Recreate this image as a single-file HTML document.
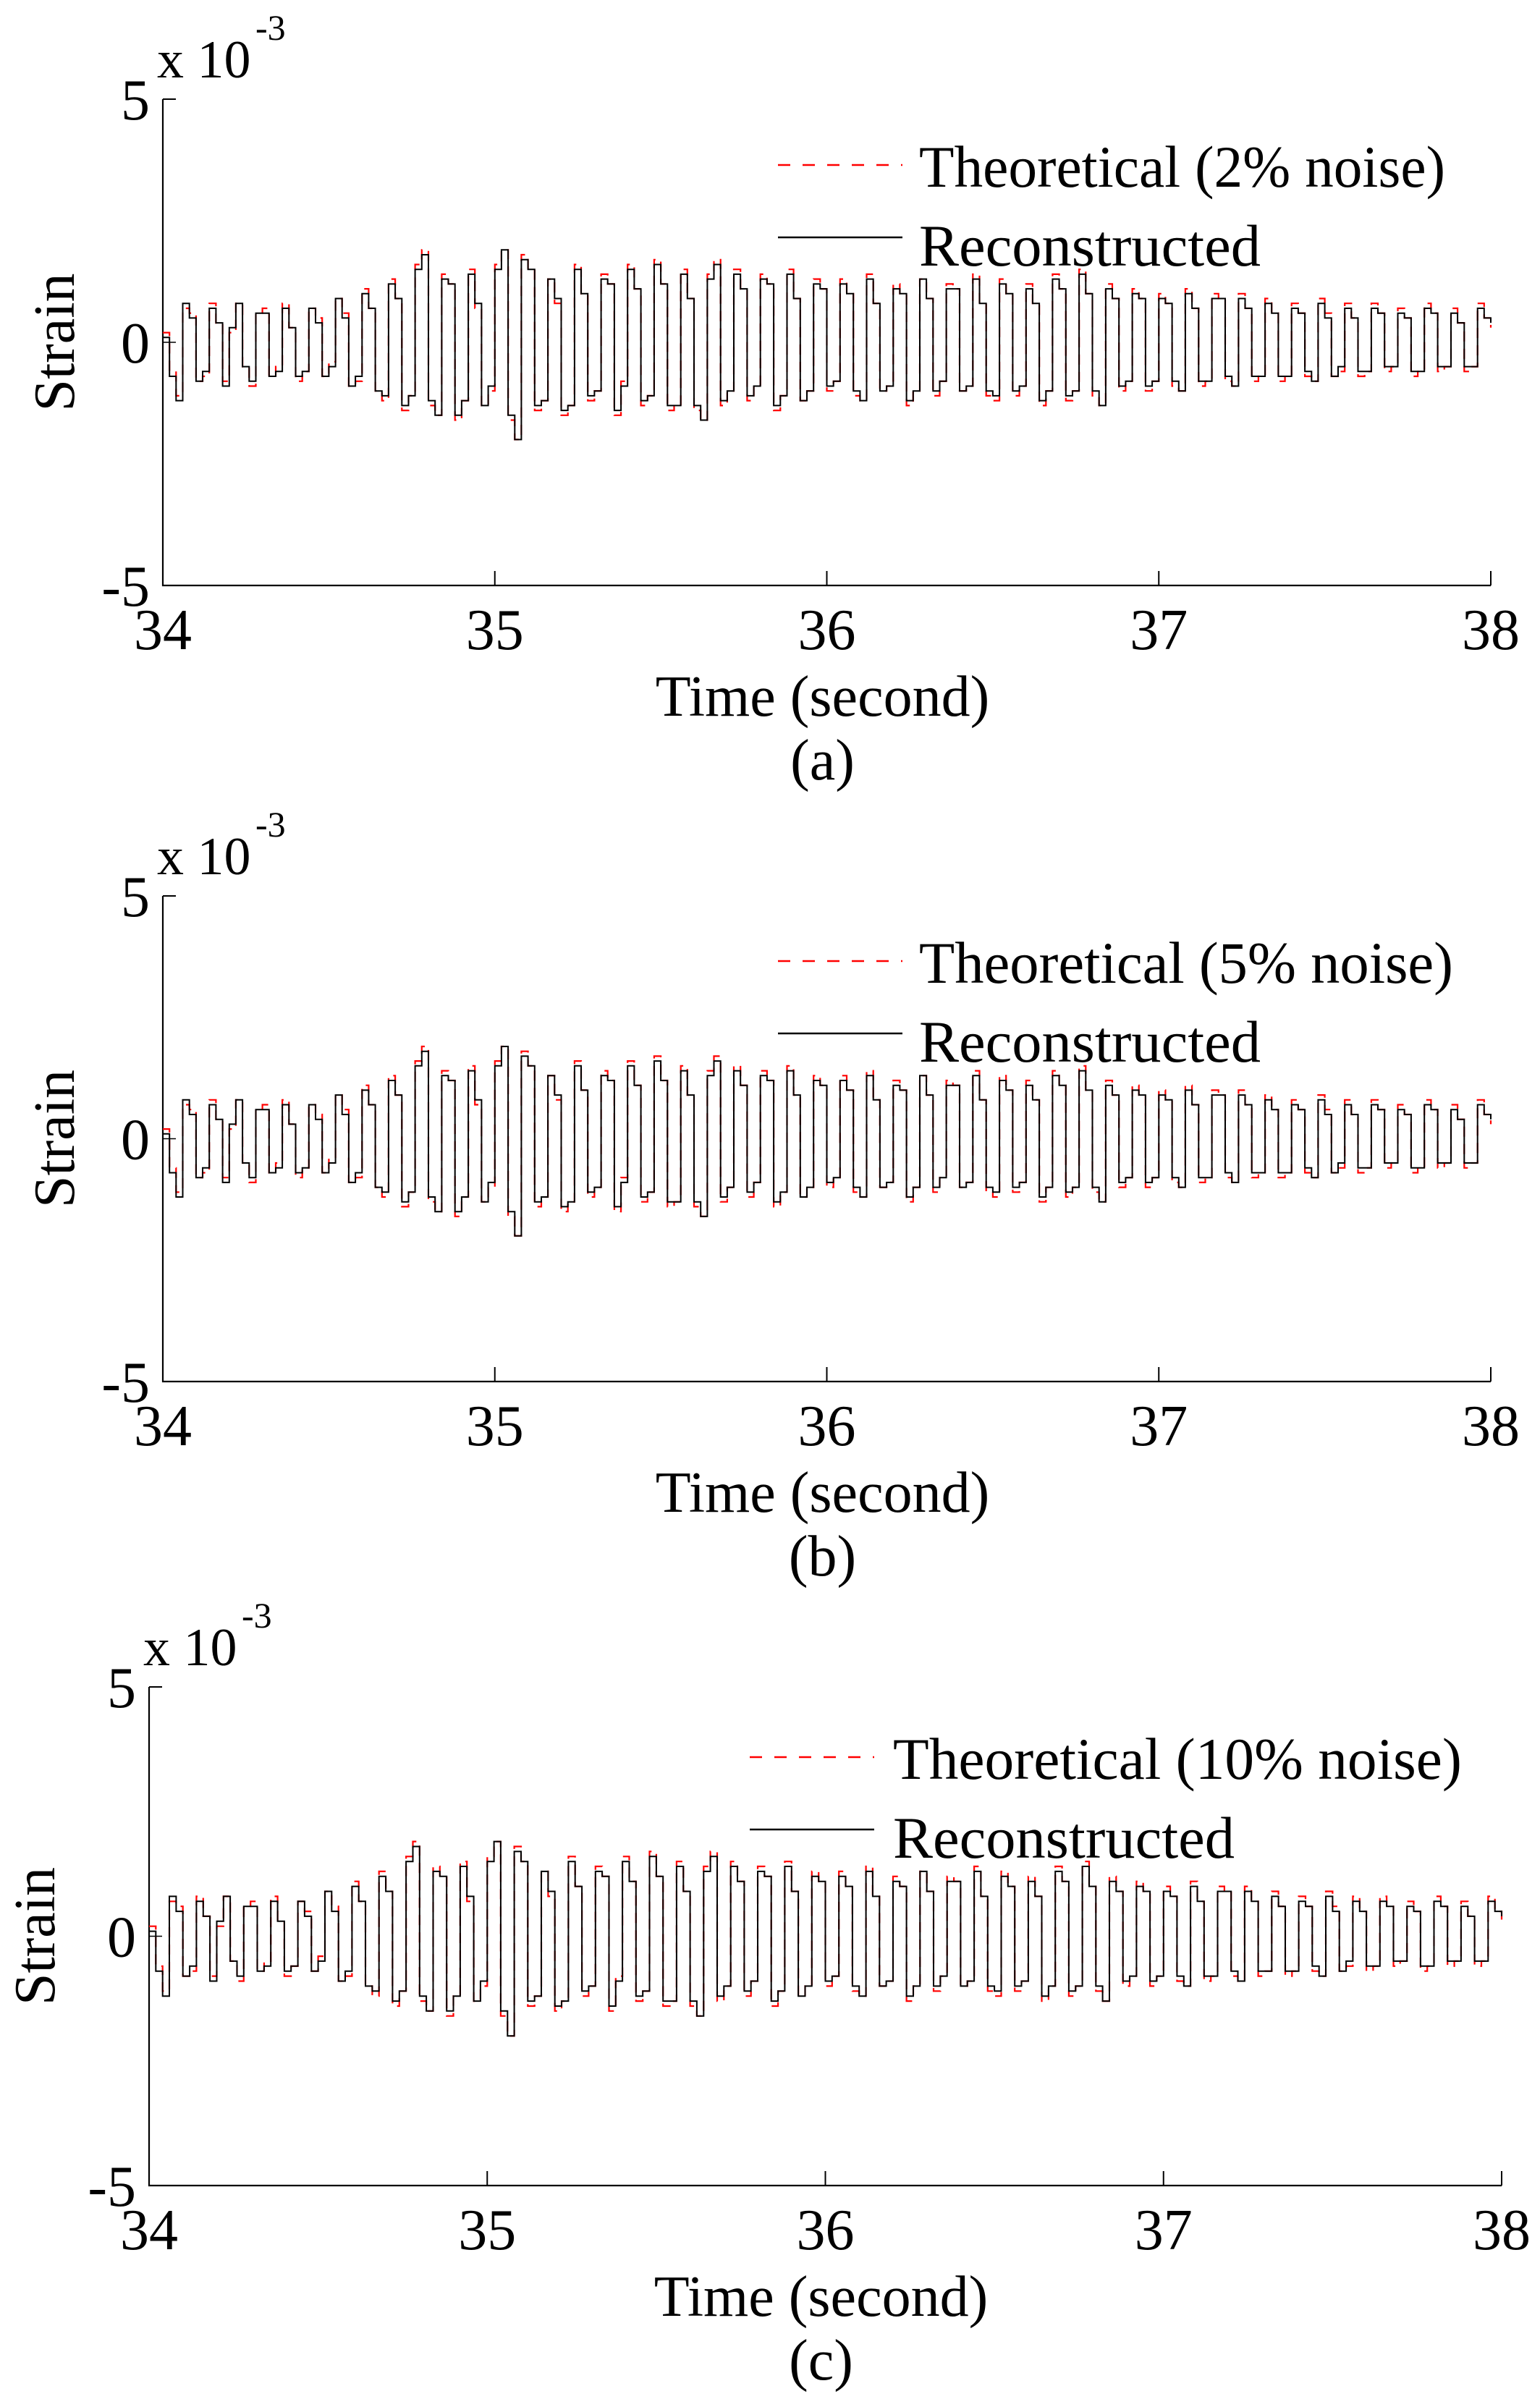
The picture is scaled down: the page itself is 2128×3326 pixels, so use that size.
<!DOCTYPE html>
<html><head><meta charset="utf-8"><style>
html,body{margin:0;padding:0;background:#fff;}
svg{display:block;font-family:"Liberation Serif",serif;}
</style></head><body>
<svg id="fig" width="2128" height="3326" viewBox="0 0 2128 3326" xmlns="http://www.w3.org/2000/svg"></svg>
<script>
// Shared data (units: x 10^-3 strain), sampled every 0.02 s from 34 s to 38 s
const timeStart = 34;
const timeStep = 0.02;
const xTicks = [34, 35, 36, 37, 38];
const yTicks = [-5, 0, 5];
const theoretical = [
0.2,-0.6,-1.1,0.7,0.6,-0.8,-0.7,0.8,0.4,-0.8,0.2,0.8,-0.5,-0.9,0.6,0.7,-0.7,-0.5,0.8,0.3,-0.8,-0.6,0.7,0.5,-0.7,
-0.4,0.9,0.6,-0.9,-0.8,1.1,0.7,-1.0,-1.2,1.3,0.9,-1.4,-1.1,1.6,1.9,-1.3,-1.5,1.4,1.2,-1.6,-1.2,1.5,0.7,-1.3,-1.0,
1.6,1.9,-1.6,-2.0,1.8,1.5,-1.4,-1.2,1.3,0.8,-1.5,-1.3,1.6,1.0,-1.2,-1.0,1.4,1.2,-1.5,-0.8,1.6,1.1,-1.3,-1.1,1.7,
1.2,-1.4,-1.3,1.5,0.9,-1.4,-1.6,1.4,1.7,-1.3,-1.0,1.5,1.1,-1.2,-0.9,1.4,1.2,-1.4,-1.1,1.5,0.9,-1.2,-1.0,1.3,1.1,
-1.0,-0.8,1.3,1.0,-1.1,-1.2,1.4,0.8,-1.0,-0.9,1.2,1.0,-1.3,-1.0,1.3,0.9,-1.1,-0.8,1.2,1.1,-1.0,-0.9,1.4,0.8,-1.1,
-1.2,1.3,1.0,-1.1,-0.9,1.2,0.8,-1.3,-1.0,1.4,1.1,-1.2,-1.0,1.5,1.0,-1.1,-1.3,1.2,0.9,-1.0,-0.8,1.1,0.9,-1.0,-0.8,
1.0,0.8,-0.9,-1.0,1.1,0.7,-0.9,-0.8,1.0,0.9,-0.8,-0.9,1.0,0.7,-0.8,-0.7,0.9,0.6,-0.8,-0.7,0.8,0.6,-0.7,-0.8,0.9,
0.6,-0.7,-0.6,0.8,0.5,-0.7,-0.6,0.8,0.6,-0.6,-0.5,0.7,0.5,-0.7,-0.6,0.8,0.6,-0.6,-0.5,0.7,0.4,-0.6,-0.5,0.8,0.5,0.3];
const reconstructed = [
0.1,-0.7,-1.2,0.8,0.5,-0.8,-0.6,0.7,0.4,-0.9,0.3,0.8,-0.5,-0.8,0.6,0.6,-0.7,-0.6,0.7,0.3,-0.7,-0.6,0.7,0.4,-0.7,
-0.5,0.9,0.5,-0.9,-0.7,1.0,0.7,-1.0,-1.1,1.2,0.9,-1.3,-1.1,1.5,1.8,-1.2,-1.5,1.3,1.2,-1.5,-1.2,1.4,0.8,-1.3,-0.9,
1.5,1.9,-1.5,-2.0,1.7,1.5,-1.3,-1.2,1.3,0.9,-1.4,-1.3,1.5,1.0,-1.1,-1.0,1.3,1.2,-1.4,-0.9,1.5,1.1,-1.2,-1.1,1.6,
1.2,-1.3,-1.3,1.4,0.9,-1.3,-1.6,1.3,1.6,-1.2,-1.0,1.4,1.1,-1.1,-0.9,1.3,1.2,-1.3,-1.1,1.4,0.9,-1.2,-1.0,1.2,1.1,
-0.9,-0.8,1.2,1.0,-1.0,-1.2,1.3,0.8,-1.0,-0.9,1.1,1.0,-1.2,-1.0,1.3,0.9,-1.0,-0.8,1.1,1.1,-1.0,-0.9,1.3,0.8,-1.0,
-1.1,1.2,1.0,-1.0,-0.9,1.1,0.8,-1.2,-1.0,1.3,1.1,-1.1,-1.0,1.4,1.0,-1.0,-1.3,1.1,0.9,-0.9,-0.8,1.0,0.9,-0.9,-0.8,
0.9,0.8,-0.8,-1.0,1.0,0.7,-0.8,-0.8,0.9,0.9,-0.7,-0.9,0.9,0.7,-0.7,-0.7,0.8,0.6,-0.7,-0.7,0.7,0.6,-0.6,-0.8,0.8,
0.5,-0.7,-0.5,0.7,0.5,-0.6,-0.6,0.7,0.6,-0.5,-0.5,0.6,0.5,-0.6,-0.6,0.7,0.6,-0.5,-0.5,0.6,0.4,-0.5,-0.5,0.7,0.5,0.4];
const panelLabels = ["(a)", "(b)", "(c)"];
const noiseLabels = ["Theoretical (2% noise)", "Theoretical (5% noise)", "Theoretical (10% noise)"];

const NS = "http://www.w3.org/2000/svg";
const svg = document.getElementById("fig");
function mk(tag, attrs, parent, text) {
  const e = document.createElementNS(NS, tag);
  for (const k in attrs) e.setAttribute(k, attrs[k]);
  if (text !== undefined) e.textContent = text;
  parent.appendChild(e);
  return e;
}

const layouts = [
  {L:225, R:2060, T:137, B:809, legX:1075, legTX:1270, legW:727, legY:228, yt:123},
  {L:225, R:2060, T:1238, B:1909, legX:1075, legTX:1270, legW:738, legY:1328, yt:123},
  {L:206, R:2075, T:2331, B:3020, legX:1036, legTX:1234, legW:786, legY:2428, yt:131}
];

layouts.forEach((p, idx) => {
  const g = mk("g", {}, svg);
  
  
  const xS = t => p.L + (t - 34) / 4 * (p.R - p.L);
  const yS = v => p.T + (5 - v) / 10 * (p.B - p.T);
  const y0 = yS(0);

  const ax = mk("path", {d:`M${p.L} ${p.T} V${p.B} H${p.R}`, fill:"none", stroke:"#000", "stroke-width":2.2}, g);
  
  
  mk("line", {x1:p.L, y1:p.T, x2:p.L+18, y2:p.T, stroke:"#000", "stroke-width":2}, g);
  mk("line", {x1:p.L, y1:y0, x2:p.L+18, y2:y0, stroke:"#000", "stroke-width":1.5}, g);

  xTicks.forEach(t => {
    const x = xS(t);
    mk("line", {x1:x, y1:p.B, x2:x, y2:p.B-20, stroke:"#000", "stroke-width":2}, g);
    const lab = mk("text", {x:x, y:p.B+88, "font-size":80, "text-anchor":"middle"}, g, String(t));
    
    
  });
  yTicks.forEach(v => {
    const lab = mk("text", {x:p.L-18, y:yS(v)+28, "font-size":80, "text-anchor":"end"}, g, String(v));
    
    
  });
  const ex = mk("text", {x:p.L-8, y:p.T-30, "font-size":74}, g, "x 10");
  
  
  mk("text", {x:p.L+128, y:p.T-82, "font-size":50}, g, "-3");

  const yt = mk("text", {x:0, y:0, "font-size":80, "text-anchor":"middle", transform:`translate(${p.L-p.yt} ${y0}) rotate(-90)`}, g, "Strain");
  
  
  const cx = (p.L + p.R) / 2;
  const xt = mk("text", {x:cx-6, y:p.B+180, "font-size":80, "text-anchor":"middle"}, g, "Time (second)");
  
  
  const pl = mk("text", {x:cx-6, y:p.B+268, "font-size":80, "text-anchor":"middle"}, g, panelLabels[idx]);
  
  

  function stairs(arr) {
    let d = `M${xS(timeStart).toFixed(1)} ${yS(arr[0]).toFixed(1)}`;
    for (let i = 1; i < arr.length; i++) {
      d += ` H${xS(timeStart + i*timeStep).toFixed(1)} V${yS(arr[i]).toFixed(1)}`;
    }
    return d;
  }
  const th = mk("path", {d:stairs(theoretical), fill:"none", stroke:"#ff0000", "stroke-width":2.2, "stroke-dasharray":"14 10"}, g);
  
  
  const rc = mk("path", {d:stairs(reconstructed), fill:"none", stroke:"#000", "stroke-width":2}, g);
  
  

  const lg = mk("g", {}, g);
  
  
  mk("line", {x1:p.legX, y1:p.legY, x2:p.legX+172, y2:p.legY, stroke:"#ff0000", "stroke-width":2.5, "stroke-dasharray":"17 17"}, lg);
  const t1 = mk("text", {x:p.legTX, y:p.legY+30, "font-size":82, textLength:p.legW, lengthAdjust:"spacingAndGlyphs"}, lg, noiseLabels[idx]);
  
  
  mk("line", {x1:p.legX, y1:p.legY+100, x2:p.legX+172, y2:p.legY+100, stroke:"#000", "stroke-width":2.5}, lg);
  const t2 = mk("text", {x:p.legTX, y:p.legY+139, "font-size":82, textLength:472, lengthAdjust:"spacingAndGlyphs"}, lg, "Reconstructed");
  
  
});
</script>
</body></html>
